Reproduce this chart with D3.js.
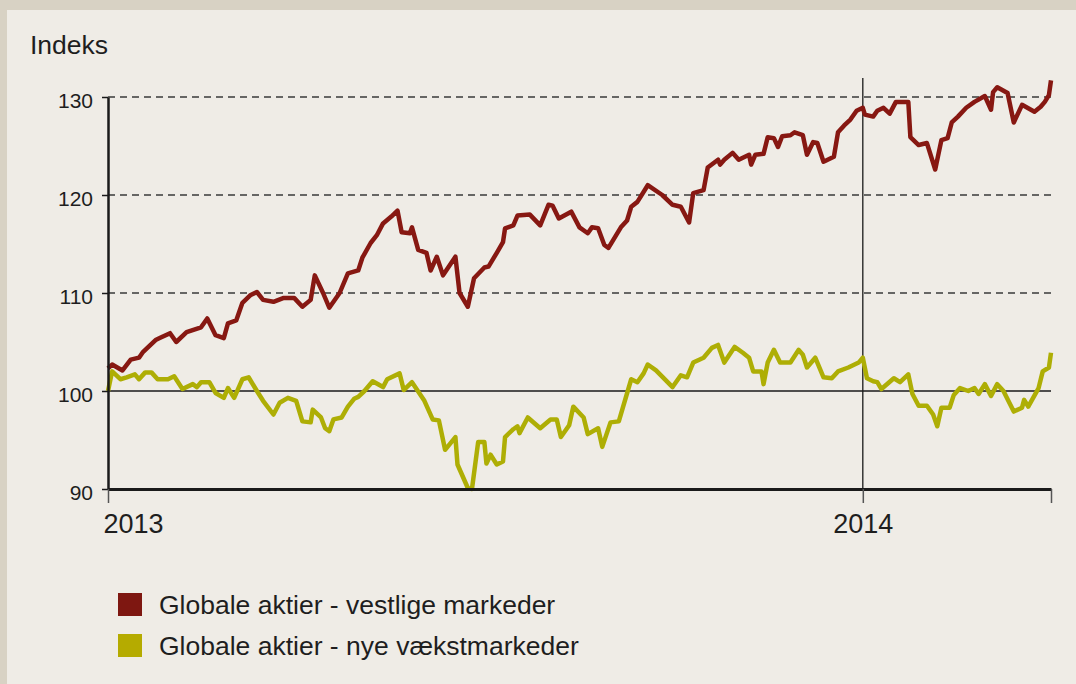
<!DOCTYPE html>
<html>
<head>
<meta charset="utf-8">
<script src="https://cdn.jsdelivr.net/npm/d3@7"></script>
<style>
  html, body { margin: 0; padding: 0; background: #d8d2c4; }
  svg { display: block; font-family: "Liberation Sans", Arial, sans-serif; }
</style>
</head>
<body>
<svg id="chart" width="1076" height="684"></svg>
<script>
// Indeks: global equities, western markets vs emerging markets (2013 = 100)

const START_DATE = new Date(2013, 0, 1);
const END_DAY = 456;

// day offsets from 1 Jan 2013 and index values
const westDays = [0, 2, 7, 11, 15, 17, 23, 25, 30, 33, 38, 45, 48, 52, 56, 58, 62, 65, 69, 72, 75, 80, 85, 90, 94, 98,
    100, 104, 107, 112, 116, 121, 123, 127, 130, 133, 137, 140, 142, 146, 147, 150, 154, 156, 159, 162, 168, 170, 174,
    177, 182, 184, 188, 191, 192, 196, 198, 204, 209, 213, 215, 218, 224, 228, 232, 234, 237, 240, 242, 248, 251, 253,
    256, 261, 268, 273, 277, 281, 283, 288, 290, 295, 296, 298, 302, 305, 310, 311, 313, 317, 319, 322, 324, 326, 330,
    332, 336, 338, 341, 343, 346, 351, 353, 356, 359, 362, 365, 366, 370, 372, 375, 378, 381, 387, 388, 392, 396, 400,
    403, 406, 408, 411, 415, 419, 424, 427, 428, 430, 435, 438, 442, 448, 451, 453, 455, 456];
const westValues = [102.3, 102.7, 102.1, 103.2, 103.4, 104.0, 105.2, 105.4, 105.9, 105.0, 106.0, 106.5, 107.4, 105.7,
    105.4, 106.9, 107.2, 109.0, 109.8, 110.1, 109.3, 109.1, 109.5, 109.5, 108.6, 109.3, 111.8, 110.0, 108.5, 110.0,
    112.0, 112.3, 113.6, 115.1, 115.9, 117.1, 117.8, 118.4, 116.2, 116.1, 116.7, 114.4, 114.1, 112.3, 113.7, 111.8,
    113.7, 110.0, 108.6, 111.5, 112.6, 112.7, 114.1, 115.2, 116.6, 116.9, 117.9, 118.0, 116.9, 119.0, 118.9, 117.6,
    118.3, 116.7, 116.1, 116.7, 116.6, 114.9, 114.6, 116.7, 117.4, 118.8, 119.3, 121.0, 120.0, 119.0, 118.8, 117.2,
    120.2, 120.5, 122.8, 123.6, 123.1, 123.6, 124.3, 123.6, 124.1, 123.1, 124.1, 124.2, 125.9, 125.8, 124.9, 126.0,
    126.1, 126.4, 126.1, 124.1, 125.4, 125.3, 123.4, 123.9, 126.4, 127.1, 127.7, 128.6, 128.9, 128.2, 128.0, 128.6,
    128.9, 128.3, 129.5, 129.5, 125.9, 125.1, 125.3, 122.6, 125.6, 125.8, 127.4, 128.0, 128.9, 129.5, 130.1, 128.7,
    130.5, 131.0, 130.4, 127.4, 129.2, 128.5, 129.0, 129.5, 130.2, 131.7];

const emergingDays = [0, 2, 6, 9, 13, 15, 18, 21, 24, 29, 32, 36, 41, 43, 45, 49, 52, 56, 58, 61, 65, 68, 72, 75, 80,
    83, 87, 91, 94, 98, 99, 103, 105, 107, 109, 113, 116, 119, 121, 124, 128, 133, 135, 141, 143, 147, 153, 157, 160,
    163, 168, 169, 174, 176, 179, 182, 183, 185, 188, 191, 192, 196, 198, 199, 203, 209, 214, 217, 219, 223, 225, 230,
    232, 237, 239, 243, 247, 253, 256, 259, 261, 265, 273, 277, 280, 283, 288, 292, 295, 298, 303, 307, 310, 312, 316,
    317, 319, 322, 325, 330, 334, 336, 338, 342, 346, 350, 353, 358, 363, 365, 367, 370, 372, 374, 380, 383, 387, 389,
    392, 396, 399, 401, 403, 407, 409, 412, 416, 419, 421, 424, 427, 430, 433, 438, 442, 443, 445, 450, 452, 455, 456];
const emergingValues = [100.0, 102.0, 101.2, 101.4, 101.7, 101.2, 101.9, 101.9, 101.2, 101.2, 101.5, 100.2, 100.7,
    100.4, 100.9, 100.9, 99.8, 99.3, 100.3, 99.3, 101.2, 101.4, 100.0, 99.0, 97.6, 98.8, 99.3, 99.0, 96.9, 96.8, 98.1,
    97.3, 96.2, 95.9, 97.1, 97.3, 98.4, 99.2, 99.4, 100.0, 101.0, 100.4, 101.2, 101.8, 100.1, 100.9, 99.0, 97.1, 97.0,
    94.0, 95.3, 92.5, 90.1, 90.0, 94.8, 94.8, 92.6, 93.5, 92.5, 92.8, 95.3, 96.1, 96.4, 95.7, 97.3, 96.2, 97.1, 97.1,
    95.3, 96.5, 98.4, 97.3, 95.6, 96.2, 94.3, 96.8, 96.9, 101.2, 100.9, 101.8, 102.7, 102.1, 100.4, 101.6, 101.4,
    102.9, 103.4, 104.4, 104.7, 102.9, 104.5, 103.9, 103.4, 102.0, 102.0, 100.7, 102.9, 104.2, 102.9, 102.9, 104.2,
    103.7, 102.4, 103.4, 101.4, 101.3, 102.0, 102.4, 102.9, 103.4, 101.3, 101.0, 100.9, 100.2, 101.3, 100.9, 101.7,
    99.7, 98.5, 98.5, 97.6, 96.4, 98.3, 98.3, 99.6, 100.3, 100.0, 100.3, 99.7, 100.7, 99.5, 100.7, 100.0, 97.9, 98.3,
    99.1, 98.4, 100.3, 102.0, 102.4, 103.9];

const yTicks = [90, 100, 110, 120, 130];
const gridTicks = [110, 120, 130];
const yearTicks = [new Date(2013, 0, 1), new Date(2014, 0, 1)];
const seriesNames = ['Globale aktier - vestlige markeder', 'Globale aktier - nye vækstmarkeder'];
const seriesColors = ['#871812', '#aeae05'];
const legendColors = ['#7e1711', '#b5ab00'];

class IndexChart {
    constructor() {
        this.svg = d3.select('#chart');
        this.WIDTH = 1076;
        this.HEIGHT = 684;
        this.PLOT = { left: 108, right: 1051, top: 97, bottom: 489 };
        this.TEXT = '#1e1e1e';

        this.xScale = d3.scaleTime()
            .domain([START_DATE, d3.timeDay.offset(START_DATE, END_DAY)])
            .range([this.PLOT.left, this.PLOT.right]);
        this.yScale = d3.scaleLinear()
            .domain([90, 130])
            .range([this.PLOT.bottom, this.PLOT.top]);

        this.series = [
            westDays.map((d, i) => ({ date: d3.timeDay.offset(START_DATE, d), value: westValues[i] })),
            emergingDays.map((d, i) => ({ date: d3.timeDay.offset(START_DATE, d), value: emergingValues[i] }))
        ];

        this.drawBackground();
        this.drawGrid();
        this.drawLines();
        this.drawAxes();
        this.drawLegend();
    }

    drawBackground() {
        this.svg.append('rect')
            .attr('width', this.WIDTH).attr('height', this.HEIGHT)
            .attr('fill', '#d8d2c4');
        this.svg.append('rect')
            .attr('x', 7).attr('y', 10)
            .attr('width', this.WIDTH - 7).attr('height', this.HEIGHT - 10)
            .attr('fill', '#efece6');
        this.svg.append('text')
            .attr('x', 30).attr('y', 54)
            .attr('font-size', 26.5).attr('fill', this.TEXT)
            .text('Indeks');
    }

    drawGrid() {
        // dashed lines at 110, 120, 130
        this.svg.append('g')
            .selectAll('line')
            .data(gridTicks)
            .join('line')
            .attr('x1', this.PLOT.left).attr('x2', this.PLOT.right)
            .attr('y1', d => this.yScale(d)).attr('y2', d => this.yScale(d))
            .attr('stroke', '#3a3a3a').attr('stroke-width', 1.4)
            .attr('stroke-dasharray', '7,5');
        // solid base line at 100
        this.svg.append('line')
            .attr('x1', this.PLOT.left).attr('x2', this.PLOT.right)
            .attr('y1', this.yScale(100)).attr('y2', this.yScale(100))
            .attr('stroke', '#1a1a1a').attr('stroke-width', 1.5);
        // year separator
        const x14 = this.xScale(yearTicks[1]);
        this.svg.append('line')
            .attr('x1', x14).attr('x2', x14)
            .attr('y1', 78).attr('y2', this.PLOT.bottom)
            .attr('stroke', '#1a1a1a').attr('stroke-width', 1.3);
    }

    drawLines() {
        const line = d3.line()
            .x(d => this.xScale(d.date))
            .y(d => this.yScale(d.value));
        this.svg.append('g')
            .selectAll('path')
            .data(this.series)
            .join('path')
            .attr('d', line)
            .attr('fill', 'none')
            .attr('stroke', (d, i) => seriesColors[i])
            .attr('stroke-width', 4.5)
            .attr('stroke-linejoin', 'round');
    }

    drawAxes() {
        // Y axis
        const yAxis = this.svg.append('g')
            .attr('transform', `translate(${this.PLOT.left},0)`)
            .call(d3.axisLeft(this.yScale).tickValues(yTicks).tickSize(6).tickPadding(9).tickSizeOuter(0));
        yAxis.select('.domain').attr('stroke', '#1a1a1a').attr('stroke-width', 2.5);
        yAxis.selectAll('.tick line').attr('stroke', '#1a1a1a').attr('stroke-width', 1.5);
        yAxis.selectAll('.tick text')
            .attr('font-size', 21).attr('fill', this.TEXT)
            .attr('font-family', '"Liberation Sans", Arial, sans-serif')
            .attr('dy', '0.5em');

        // X axis
        const xAxis = this.svg.append('g')
            .attr('transform', `translate(0,${this.PLOT.bottom})`)
            .call(d3.axisBottom(this.xScale)
                .tickValues(yearTicks.concat([this.xScale.domain()[1]]))
                .tickSize(14).tickPadding(11).tickSizeOuter(0)
                .tickFormat((d, i) => i < 2 ? d3.timeFormat('%Y')(d) : ''));
        xAxis.select('.domain').attr('stroke', '#1a1a1a').attr('stroke-width', 3);
        xAxis.selectAll('.tick line').attr('stroke', '#555').attr('stroke-width', 1.5);
        xAxis.selectAll('.tick text')
            .attr('font-size', 27).attr('fill', this.TEXT)
            .attr('font-family', '"Liberation Sans", Arial, sans-serif')
            .attr('text-anchor', (d, i) => i === 0 ? 'start' : 'middle')
            .attr('dx', (d, i) => i === 0 ? -5 : 0);
    }

    drawLegend() {
        const legend = this.svg.append('g')
            .selectAll('g')
            .data(seriesNames)
            .join('g')
            .attr('transform', (d, i) => `translate(118,${593 + i * 41})`);
        legend.append('rect')
            .attr('width', 24).attr('height', 23)
            .attr('fill', (d, i) => legendColors[i]);
        legend.append('text')
            .attr('x', 41).attr('y', 21)
            .attr('font-size', 26.5).attr('fill', this.TEXT)
            .text(d => d);
    }
}

new IndexChart();
</script>
</body>
</html>
